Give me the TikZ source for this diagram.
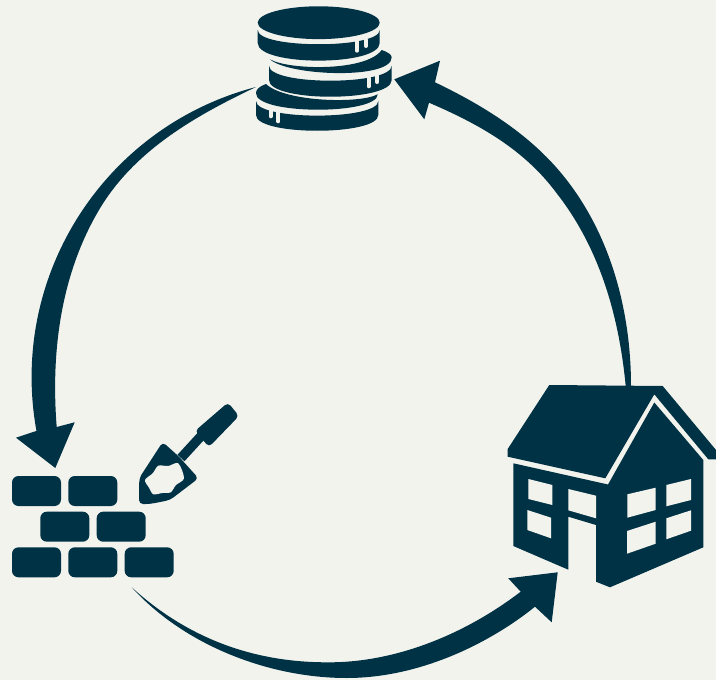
\documentclass[tikz,border=0pt]{standalone}
\definecolor{inkblue}{HTML}{003246}
\definecolor{paper}{HTML}{F2F3EC}
\begin{document}
\begin{tikzpicture}[
    x=1pt, y=-1pt,
    icon/.style={fill=inkblue},
    gap/.style={fill=paper},
    drip/.style={draw=paper, line width=4pt, line cap=round},
    brick/.style={fill=inkblue, rounded corners=6.5pt, minimum width=49pt, minimum height=30pt, inner sep=0pt},
  ]
    \fill[paper] (0,0) rectangle (716,680);
    \useasboundingbox (0,0) rectangle (716,680);

    % === coins ===
    % top coin
    \fill[icon] (318.7,22.7) ellipse [x radius=61pt, y radius=16.4pt];
    \fill[icon] (257.7,30) .. controls (257.7,49) and (379.7,49) .. (379.7,30) -- (379.7,43)
      .. controls (379.7,66.5) and (257.7,66.5) .. (257.7,43) -- cycle;
    \draw[drip] (357,41) -- (357,50.7);
    \draw[drip] (366,40) -- (366,46);
    % middle coin
    \fill[icon] (270,59.3) .. controls (288,76) and (391.7,80) .. (391.7,57.3)
      .. controls (391.7,55) and (388,52) .. (381.7,50)
      .. controls (366,72) and (288,70) .. (270,59.3) -- cycle;
    \fill[icon] (269,65.7) .. controls (269,85.7) and (391.7,85.7) .. (391.7,65.7) -- (391.7,80)
      .. controls (391.7,102.3) and (269,102.3) .. (269,80) -- cycle;
    \draw[drip] (368.7,78) -- (368.7,86.3);
    \draw[drip] (377.3,76) -- (377.3,82);
    % bottom coin
    \fill[icon] (266,84) .. controls (258,87) and (256,90) .. (256,93.3)
      .. controls (256,115) and (377.7,115) .. (377.7,94.3)
      .. controls (360,104) and (285,102) .. (266,84) -- cycle;
    \fill[icon] (256,101) .. controls (256,120.5) and (378.3,120.5) .. (378.3,101) -- (378.3,115)
      .. controls (378.3,136) and (256,136) .. (256,115) -- cycle;
    \draw[drip] (270.7,110) -- (270.7,116.3);
    \draw[drip] (278.3,112) -- (278.3,121.3);

    % === house ===
    \fill[icon] (549.3,385) -- (662.7,386) -- (716,450) -- (716,459.3) -- (708.3,459.3)
      -- (654.3,394.3) -- (605.3,478.3) -- (507.7,456.7) -- (507.7,449) -- cycle;
    \fill[icon] (513.3,463.3) -- (608,484.5) -- (654.3,402.5) -- (703.3,460) -- (703.3,547.3)
      -- (610,587.3) -- (596,581.7) -- (596,525) -- (568.3,516.7) -- (568.3,569.7) -- (513.3,546) -- cycle;
    % windows
    \fill[gap] (528.3,479) -- (552.3,485) -- (552.3,505) -- (528.3,499) -- cycle;
    \fill[gap] (527.3,510) -- (551,517.7) -- (551,538.3) -- (527.3,530) -- cycle;
    \fill[gap] (568.3,489) -- (596,495.7) -- (596,518.3) -- (568.3,510.3) -- cycle;
    \fill[gap] (627.3,494.3) -- (655.7,487.7) -- (655.7,510) -- (627.3,517.7) -- cycle;
    \fill[gap] (666.3,485) -- (691,479) -- (691,500) -- (666.3,506.3) -- cycle;
    \fill[gap] (627,531) -- (655.7,521.7) -- (655.7,543.7) -- (627,553.7) -- cycle;
    \fill[gap] (666.3,518.3) -- (691,510.3) -- (691,530.7) -- (666.3,539.3) -- cycle;

    % === bricks ===
    \node[brick] (brickA) at (36.5, 491) {};
    \node[brick] (brickB) at (92.8, 491) {};
    \node[brick] (brickC) at (64.8, 526.7) {};
    \node[brick] (brickD) at (121.2, 526.7) {};
    \node[brick] (brickE) at (36.5, 562.3) {};
    \node[brick] (brickF) at (92.8, 562.3) {};
    \node[brick] (brickG) at (149.2, 562.3) {};

    % === trowel ===
    \fill[icon, rounded corners=4pt] (228,402.5) -- (239,416) -- (209,447) -- (195,431) -- cycle;
    \draw[inkblue, line width=9.5pt] (203,434) -- (181,458);
    \fill[icon, rounded corners=4pt] (162.7,442) -- (179,456.7) -- (198.5,478.3) -- (170,500)
      -- (150,504) -- (139,504) -- (139.3,478) -- cycle;
    \fill[gap] plot[smooth cycle] coordinates {(145,480) (152.7,473.3) (158.3,465.7) (168.3,466)
      (178.3,463.3) (184,478.3) (176,485) (170.7,492.3) (162.3,493) (153.3,494.3) (149,487.7)};

    % === arrows ===
    % coins to bricks
    \fill[icon] (256,87) arc [start angle=104.6, end angle=190.3, radius=300pt]
      -- (16,437.7) -- (55.3,468) -- (74.7,422.3) -- (56.7,427)
      .. controls (50.7,351) and (61,273.3) .. (100,208.3)
      .. controls (135,150.3) and (195,116) .. (256,87) -- cycle;
    % bricks to house
    \fill[icon] (131.7,587.3) .. controls (185,646) and (270,678) .. (346.7,678)
      .. controls (420,678) and (490,643) .. (535,606.7)
      -- (551.7,622.3) -- (557.7,572.3) -- (508.3,578.3) -- (520.7,591.7)
      .. controls (460,638) and (390,663) .. (326.7,662.3)
      .. controls (250,662.3) and (185,636) .. (131.7,587.3) -- cycle;
    % house to coins
    \fill[icon] (631,386) .. controls (631,313) and (611.7,238) .. (566.7,180)
      .. controls (532.7,136) and (485,106.3) .. (435,82.3)
      -- (440,60.7) -- (394.3,79.3) -- (424.3,119.3) -- (429,102.7)
      .. controls (478,123.7) and (524,149) .. (556.7,193.3)
      .. controls (599.7,248.3) and (619,316) .. (625.7,386) -- cycle;
\end{tikzpicture}
\end{document}
